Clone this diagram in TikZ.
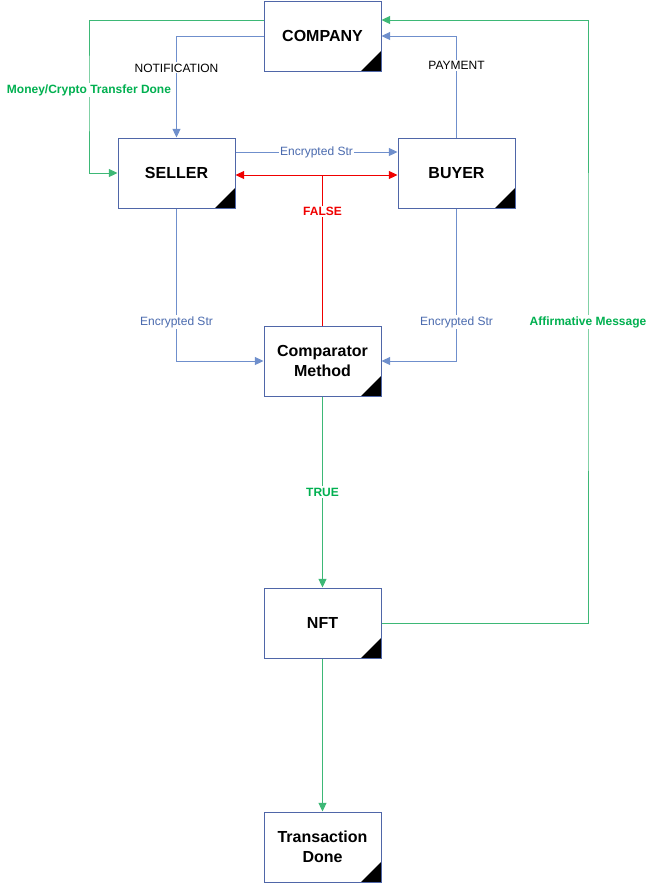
\documentclass[tikz,border=0pt]{standalone}
\usepackage{fontspec}
\setmainfont{Liberation Sans}
\usetikzlibrary{arrows.meta}
\definecolor{borde}{HTML}{4F66A8}
\definecolor{azul}{HTML}{6F8FCC}
\definecolor{azultexto}{HTML}{4A6AAE}
\definecolor{verde}{HTML}{00B050}
\definecolor{verdelinea}{HTML}{3DB876}
\definecolor{rojo}{HTML}{F00000}

\begin{document}
\begin{tikzpicture}[x=0.75pt,y=-0.75pt,
    bloque/.style={draw=borde, line width=0.75pt, fill=white,
        minimum width=87.75pt, minimum height=52.5pt, align=center,
        font=\bfseries\fontsize{12}{15}\selectfont,
        path picture={\fill[black] (path picture bounding box.south east)
            -- ++(-15pt,0) -- ++(15pt,15pt) -- cycle;}},
    flecha/.style={line width=0.75pt, -{Triangle[length=6.5pt,width=6pt]}},
    doble/.style={line width=0.75pt, {Triangle[length=6.5pt,width=6pt]}-{Triangle[length=6.5pt,width=6pt]}},
    etiq/.style={fill=white, inner sep=1pt, font=\fontsize{9}{10}\selectfont}]
    \useasboundingbox (0,0) rectangle (661,883);

    % Bloques
    \node[bloque] (company) at (322.5,36) {COMPANY};
    \node[bloque] (seller) at (176.5,173) {SELLER};
    \node[bloque] (buyer) at (456.5,173) {BUYER};
    \node[bloque] (comp) at (322.5,361) {Comparator\\Method};
    \node[bloque] (nft) at (322.5,623) {NFT};
    \node[bloque] (done) at (322.5,847) {Transaction\\Done};

    % Puntos de quiebre
    \coordinate (gizq) at (89,90);
    \coordinate (gder) at (588,322);
    \coordinate (cruce) at (322.5,175);

    % Company <-> seller / buyer
    \draw[flecha, azul] (company.west) -| (seller.north)
        node[etiq, text=black, pos=0.657] {NOTIFICATION};
    \draw[flecha, verdelinea] ([yshift=12pt]company.west) -| (gizq)
        node[etiq, text=verde, font=\bfseries\fontsize{9}{10}\selectfont] {Money/Crypto Transfer Done}
        |- (seller.west);
    \draw[flecha, azul] (buyer.north) |- (company.east)
        node[etiq, text=black, pos=0.353] {PAYMENT};

    % Seller <-> buyer
    \draw[flecha, azul] ([yshift=15.75pt]seller.east) -- ([yshift=15.75pt]buyer.west)
        node[etiq, text=azultexto, midway] {Encrypted Str};
    \draw[doble, rojo] ([yshift=-1.5pt]seller.east) -- ([yshift=-1.5pt]buyer.west);
    \draw[line width=0.75pt, rojo] (comp.north) -- (cruce)
        node[etiq, text=rojo, pos=0.76, font=\bfseries\fontsize{9}{10}\selectfont] {FALSE};

    % Hacia el comparador
    \draw[flecha, azul] (seller.south) |- (comp.west)
        node[etiq, text=azultexto, pos=0.373] {Encrypted Str};
    \draw[flecha, azul] (buyer.south) |- (comp.east)
        node[etiq, text=azultexto, pos=0.373] {Encrypted Str};

    % Comparador -> NFT -> fin
    \draw[flecha, verdelinea] (comp.south) -- (nft.north)
        node[etiq, text=verde, midway, font=\bfseries\fontsize{9}{10}\selectfont] {TRUE};
    \draw[flecha, verdelinea] (nft.south) -- (done.north);
    \draw[flecha, verdelinea] (nft.east) -| (gder)
        node[etiq, text=verde, font=\bfseries\fontsize{9}{10}\selectfont] {Affirmative Message}
        |- ([yshift=12pt]company.east);
\end{tikzpicture}
\end{document}
